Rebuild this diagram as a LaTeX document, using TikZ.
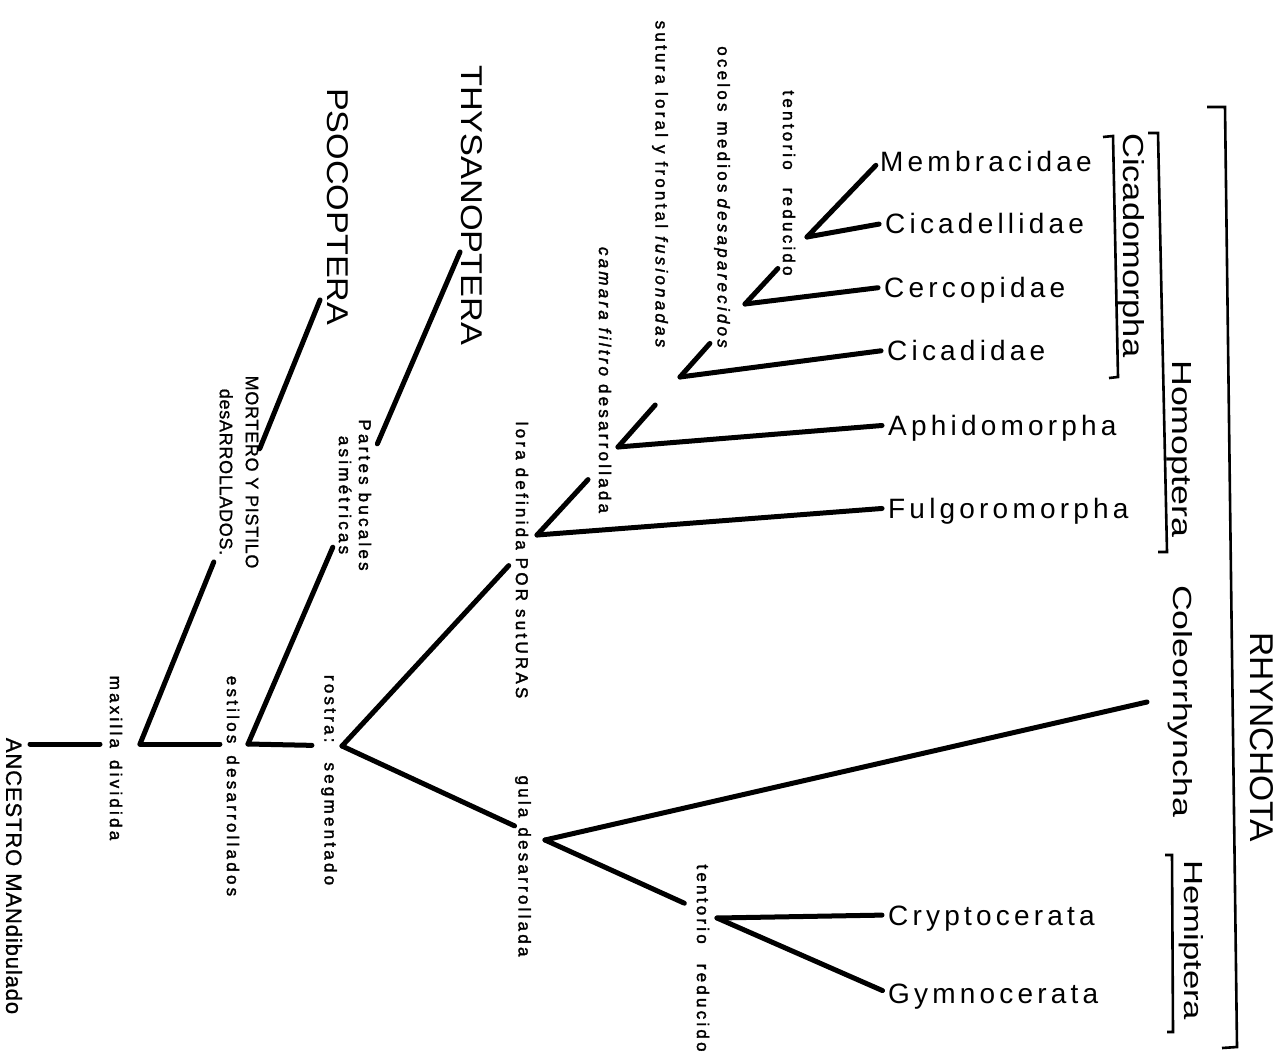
\documentclass[tikz,border=0pt]{standalone}
\usepackage{fontspec}
\usepackage{graphicx}
\setmainfont{Liberation Sans}
\newfontfamily\hand[LetterSpace=19,FakeBold=2]{Liberation Sans}
\newfontfamily\handc[LetterSpace=4,FakeBold=1]{Liberation Sans}
\newfontfamily\taxfont[LetterSpace=15]{Liberation Sans}
\usetikzlibrary{calc}
\begin{document}
\begin{tikzpicture}[x=1pt,y=-1pt,
  br/.style={line width=5pt, line cap=round},
  tx/.style={line width=5pt, line cap=round, shorten >=6pt},
  bk/.style={line width=2.6pt},
  taxon/.style={anchor=west, inner sep=0pt, text height=20pt, text depth=0pt,
    font=\taxfont\fontsize{28}{28}\selectfont},
  grp/.style={rotate=-90, inner sep=0pt, anchor=base west},
  lab/.style={rotate=-90, inner sep=0pt, align=center,
    font=\hand\fontsize{17}{20}\selectfont},
]
\useasboundingbox (0,0) rectangle (1287,1060);

% ---- tree vertices
\coordinate (root) at (30,744);
\coordinate (rootend) at (100,744);
\coordinate (nA) at (140,744);
\coordinate (nB) at (248,744);
\coordinate (nC) at (342,746);
\coordinate (psoc) at (320,300);
\coordinate (thys) at (460,252);
\coordinate (nD) at (537,535);
\coordinate (nG) at (545,840);
\coordinate (nE) at (618,447);
\coordinate (nF) at (680,377);
\coordinate (nH) at (745,304);
\coordinate (nI) at (807,237);
\coordinate (nJ) at (717,918);
\coordinate (coleo) at (1147,702);

% ---- taxa
\node[taxon] (memb) at (880,161) {Membracidae};
\node[taxon] (cicl) at (885,223) {Cicadellidae};
\node[taxon] (cerc) at (884,287) {Cercopidae};
\node[taxon] (cicd) at (887,350) {Cicadidae};
\node[taxon] (aphi) at (888,425) {Aphidomorpha};
\node[taxon] (fulg) at (888,508) {Fulgoromorpha};
\node[taxon] (cryp) at (888,915) {Cryptocerata};
\node[taxon] (gymn) at (888,993) {Gymnocerata};

% ---- branches
\draw[br] (root) -- (rootend);
\draw[br] (nA) -- ($(nA)!0.74!(nB)$);
\draw[br] (nB) -- ($(nB)!0.68!(nC)$);
\draw[br] (nA) -- ($(nA)!0.41!(psoc)$);
\draw[br] ($(nA)!0.665!(psoc)$) -- (psoc);
\draw[br] (nB) -- ($(nB)!0.40!(thys)$);
\draw[br] ($(nB)!0.61!(thys)$) -- (thys);
\draw[br] (nC) -- ($(nC)!0.855!(nD)$);
\draw[br] (nC) -- ($(nC)!0.85!(nG)$);
\draw[br] (nD) -- ($(nD)!0.63!(nE)$);
\draw[br] (nE) -- ($(nE)!0.6!(nF)$);
\draw[br] (nF) -- ($(nF)!0.46!(nH)$);
\draw[br] (nH) -- ($(nH)!0.53!(nI)$);
\draw[br] (nG) -- ($(nG)!0.81!(nJ)$);
\draw[br] (nG) -- (coleo);
\draw[tx] (nD) -- (fulg.west);
\draw[tx] (nE) -- (aphi.west);
\draw[tx] (nF) -- (cicd.west);
\draw[tx] (nH) -- (cerc.west);
\draw[tx] (nI) -- (memb.west);
\draw[tx] (nI) -- (cicl.west);
\draw[tx] (nJ) -- (cryp.west);
\draw[tx] (nJ) -- (gymn.west);

% ---- brackets
\draw[bk] (1103,137) -- (1113,136) -- (1118,377) -- (1109,378);
\draw[bk] (1148,133) -- (1158,133) -- (1167,552) -- (1158,552);
\draw[bk] (1165,855) -- (1172,855) -- (1173,1032) -- (1167,1032);
\draw[bk] (1207,107) -- (1225,107) -- (1237,1047) -- (1222,1048);

% ---- group names
\node[grp] (gcica) at (1123,133) {\resizebox{224pt}{21pt}{Cicadomorpha}};
\node[grp] (ghomo) at (1172,360) {\resizebox{177pt}{19pt}{Homoptera}};
\node[grp] (gcole) at (1173,585) {\resizebox{232pt}{19pt}{Coleorrhyncha}};
\node[grp] (ghemi) at (1184,860) {\resizebox{160pt}{19pt}{Hemiptera}};
\node[grp] (grhyn) at (1250,632) {\resizebox{210pt}{23pt}{RHYNCHOTA}};
\node[grp] (gpsoc) at (327,88) {\resizebox{237pt}{21pt}{PSOCOPTERA}};
\node[grp] (gthys) at (461,65) {\resizebox{280pt}{21pt}{THYSANOPTERA}};

% ---- character labels
\node[lab, font=\handc\fontsize{22}{22}\selectfont] (lanc) at (14,876) {ANCESTRO MANdibulado};
\node[lab] (lmax) at (116,758) {maxilla\hspace{12pt}dividida};
\node[lab] (lest) at (233,786) {estilos\hspace{12pt}desarrollados};
\node[lab] (lros) at (329,780) {rostra:\hspace{20pt}segmentado};
\node[lab, font=\handc\fontsize{18}{26}\selectfont] (lmor) at (239,472) {MORTERO Y PISTILO\\desARROLLADOS.};
\node[lab] (lpar) at (355,495) {Partes bucales\\asimétricas};
\node[lab] (llor) at (522,560) {lora definida POR sutURAS};
\node[lab] (lgul) at (523,866) {gula\hspace{10pt}desarrollada};
\node[lab] (lcam) at (605,380) {\itshape camara filtro \upshape desarrollada};
\node[lab] (lsut) at (660,184) {sutura loral y frontal \itshape fusionadas};
\node[lab] (loce) at (722,197) {ocelos\hspace{10pt}medios\hspace{6pt}\itshape desaparecidos};
\node[lab] (lten) at (789,183) {tentorio\hspace{18pt}reducido};
\node[lab] (lte2) at (703,958) {tentorio\hspace{20pt}reducido};
\end{tikzpicture}
\end{document}
